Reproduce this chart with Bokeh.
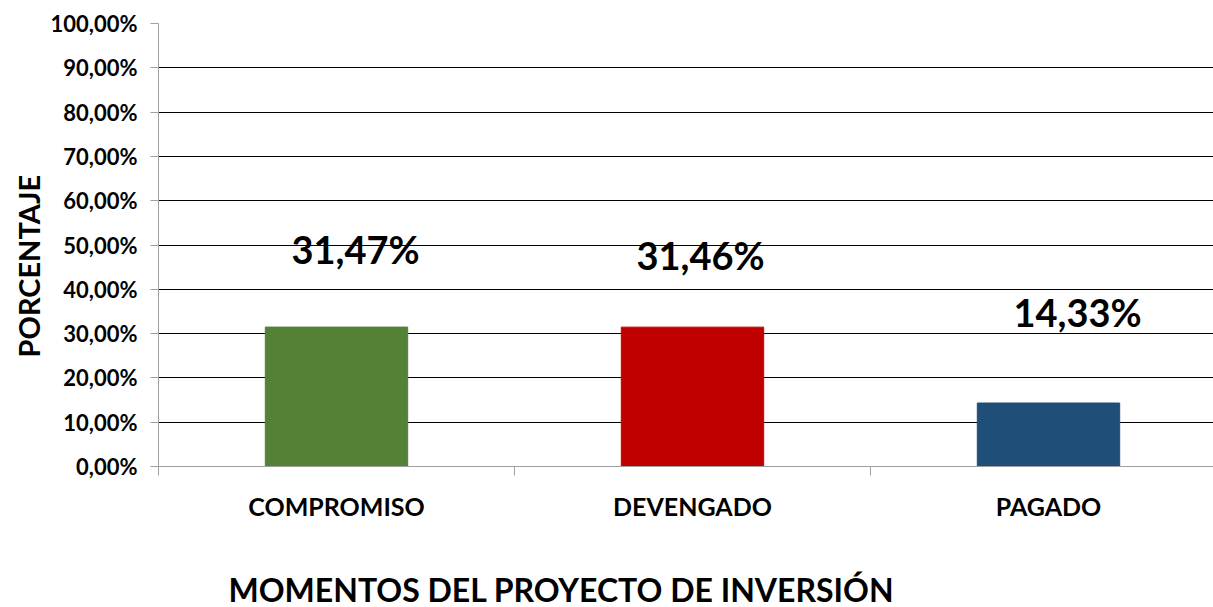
from bokeh.plotting import figure
from bokeh.models import ColumnDataSource, FixedTicker, Range1d, Title
from bokeh.core.properties import value
from bokeh.embed import file_html
from bokeh.resources import INLINE

categories = ["COMPROMISO", "DEVENGADO", "PAGADO"]
values = [31.47, 31.46, 14.33]
labels = ["31,47%", "31,46%", "14,33%"]
colors = ["#538135", "#C00000", "#1F4E79"]
y_ticks = [0, 10, 20, 30, 40, 50, 60, 70, 80, 90, 100]
y_tick_labels = ["0,00%", "10,00%", "20,00%", "30,00%", "40,00%", "50,00%",
                 "60,00%", "70,00%", "80,00%", "90,00%", "100,00%"]
# manual label nudges (pixels), as placed in the original
label_dx = [19, 8, 29]
label_dy = [17.7, 16.2, 20.5]

FONT = "Lato"
xs = [i + 0.5 for i in range(len(categories))]
src = ColumnDataSource(dict(x=xs, top=values, color=colors, label=labels,
                            ly=[v + d for v, d in zip(values, label_dy)],
                            dx=label_dx))

p = figure(frame_width=1055, frame_height=443, output_backend="svg", toolbar_location=None,
           x_range=Range1d(0, 1055 / 356), y_range=Range1d(0, 100),
           min_border_left=158, min_border_right=0, min_border_top=23, min_border_bottom=0)
p.outline_line_color = None
p.background_fill_color = "white"
p.border_fill_color = "white"

p.vbar(x="x", top="top", width=0.4, color="color", source=src)
p.text(x="x", y="ly", text="label", x_offset="dx", source=src, text_align="center",
       text_baseline="middle", text_font=value(FONT), text_font_style="bold",
       text_font_size="38px", text_color="black")

# y axis
p.yaxis.ticker = FixedTicker(ticks=y_ticks)
p.yaxis.major_label_overrides = {t: l for t, l in zip(y_ticks, y_tick_labels)}
p.yaxis.major_label_text_font = FONT
p.yaxis.major_label_text_font_style = "bold"
p.yaxis.major_label_text_font_size = "22px"
p.yaxis.major_label_text_color = "black"
p.yaxis.major_label_standoff = 13
p.yaxis.major_tick_in = 0
p.yaxis.major_tick_out = 8
p.yaxis.major_tick_line_color = "#A0A0A0"
p.yaxis.minor_tick_line_color = None
p.yaxis.axis_line_color = "#A0A0A0"

ytitle = Title(text="PORCENTAJE", align="left", offset=109,
               text_font=FONT, text_font_style="bold", text_font_size="29px",
               text_color="black", standoff=3)
p.add_layout(ytitle, "left")

# x axis
p.xaxis.ticker = FixedTicker(ticks=xs, minor_ticks=[0, 1, 2, 3])
p.xaxis.major_label_overrides = {x: c for x, c in zip(xs, categories)}
p.xaxis.major_label_text_font = FONT
p.xaxis.major_label_text_font_style = "bold"
p.xaxis.major_label_text_font_size = "25px"
p.xaxis.major_label_text_color = "black"
p.xaxis.major_label_standoff = 15
p.xaxis.major_tick_in = 0
p.xaxis.major_tick_out = 0
p.xaxis.minor_tick_in = 0
p.xaxis.minor_tick_out = 9
p.xaxis.minor_tick_line_color = "#A0A0A0"
p.xaxis.axis_line_color = "#A0A0A0"

xtitle = Title(text="MOMENTOS DEL PROYECTO DE INVERSIÓN", align="left", offset=70,
               text_font=FONT, text_font_style="bold", text_font_size="32px",
               text_color="black", standoff=88)
p.add_layout(xtitle, "below")

p.xgrid.grid_line_color = None
p.ygrid.ticker = FixedTicker(ticks=y_ticks[1:])
p.ygrid.grid_line_color = "black"
p.ygrid.grid_line_width = 1

open("out.html", "w").write(file_html(p, INLINE))
